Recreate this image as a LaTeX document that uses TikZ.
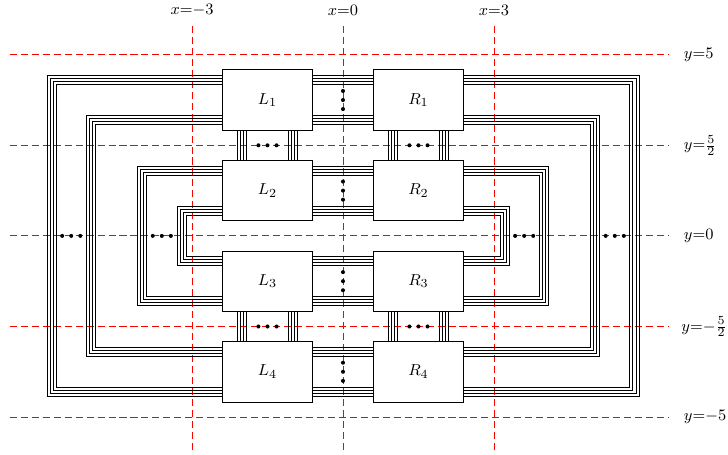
\documentclass[tikz,border=0pt]{standalone}
\usetikzlibrary{calc,backgrounds}

\begin{document}
\begin{tikzpicture}[
  x=1cm, y=0.72cm,
  font=\fontsize{9.5}{11}\selectfont,
  blk/.style     = {draw, fill=white, line width=0.5pt, inner sep=0pt,
                    minimum width=1.8cm, minimum height=1.2cm},
  wire/.style    = {line width=0.45pt, black},
  refline/.style = {red, line width=0.5pt, dash pattern=on 4pt off 2.2pt},
  dot/.style     = {fill=black}]
\useasboundingbox (-6.815,-6.02) rectangle (7.65,6.51);

% blocks
\foreach \n/\y in {1/3.75, 2/1.25, 3/-1.25, 4/-3.75}{
  \node[blk] (L\n) at (-1.5,\y) {$L_\n$};
  \node[blk] (R\n) at (1.5,\y) {$R_\n$};
}

% reference lines and labels
\node[above] (xa) at (-3,5.9) {$x{=}{-3}$};
\node[above] (xb) at (0,5.9) {$x{=}0$};
\node[above] (xc) at (3,5.9) {$x{=}3$};
\node[anchor=west] (ya) at (6.65,5) {$y{=}5$};
\node[anchor=west] (yb) at (6.65,2.5) {$y{=}\frac{5}{2}$};
\node[anchor=west] (yc) at (6.65,0) {$y{=}0$};
\node[anchor=west] (yd) at (6.6,-2.5) {$y{=}{-\frac{5}{2}}$};
\node[anchor=west] (ye) at (6.65,-5) {$y{=}{-5}$};

\begin{scope}[on background layer]
  \foreach \y in {5,2.5,0,-2.5,-5}
    \draw[refline] (-6.62,\y) -- (6.46,\y);
  \foreach \x in {-3,0,3}
    \draw[refline] (\x,-5.9) -- (\x,5.9);

  % wire loops round the blocks
  \foreach \k in {0,...,3}{
    \draw[wire] ($(L1)+(-4.38cm+\k*0.06cm, 0.49cm-\k*0.06cm)$) rectangle
                ($(R4)+(4.38cm-\k*0.06cm, -0.49cm+\k*0.06cm)$);
    \draw[wire] ($(L1)+(-3.6cm+\k*0.06cm, -0.31cm-\k*0.06cm)$) rectangle
                ($(R4)+(3.6cm-\k*0.06cm, 0.31cm+\k*0.06cm)$);
    \draw[wire] ($(L2)+(-2.59cm+\k*0.06cm, 0.49cm-\k*0.06cm)$) rectangle
                ($(R3)+(2.59cm-\k*0.06cm, -0.49cm+\k*0.06cm)$);
    \draw[wire] ($(L2)+(-1.8cm+\k*0.06cm, -0.31cm-\k*0.06cm)$) rectangle
                ($(R3)+(1.8cm-\k*0.06cm, 0.31cm+\k*0.06cm)$);
  }

  % vertical bundles
  \foreach \a/\b in {L1/L2, L3/L4, R1/R2, R3/R4}
    \foreach \k in {0,...,3}{
      \draw[wire] ($(\a.south)+(-0.6cm+\k*0.06cm,0)$) -- ($(\b.north)+(-0.6cm+\k*0.06cm,0)$);
      \draw[wire] ($(\a.south)+(0.42cm+\k*0.06cm,0)$) -- ($(\b.north)+(0.42cm+\k*0.06cm,0)$);
    }
\end{scope}

% dots
\foreach \n in {1,...,4}
  \foreach \d in {-0.18,0,0.18}
    \fill[dot] ($(L\n)!0.5!(R\n)+(0,\d cm)$) circle (0.04cm);
\foreach \a/\b in {L1/L2, L3/L4, R1/R2, R3/R4}
  \foreach \d in {-0.18,0,0.18}
    \fill[dot] ($(\a)!0.5!(\b)+(\d cm,0)$) circle (0.04cm);
\foreach \x in {-5.4,-3.6,3.6,5.4}
  \foreach \d in {-0.18,0,0.18}
    \fill[dot] (\x+\d,0) circle (0.04cm);
\end{tikzpicture}
\end{document}
